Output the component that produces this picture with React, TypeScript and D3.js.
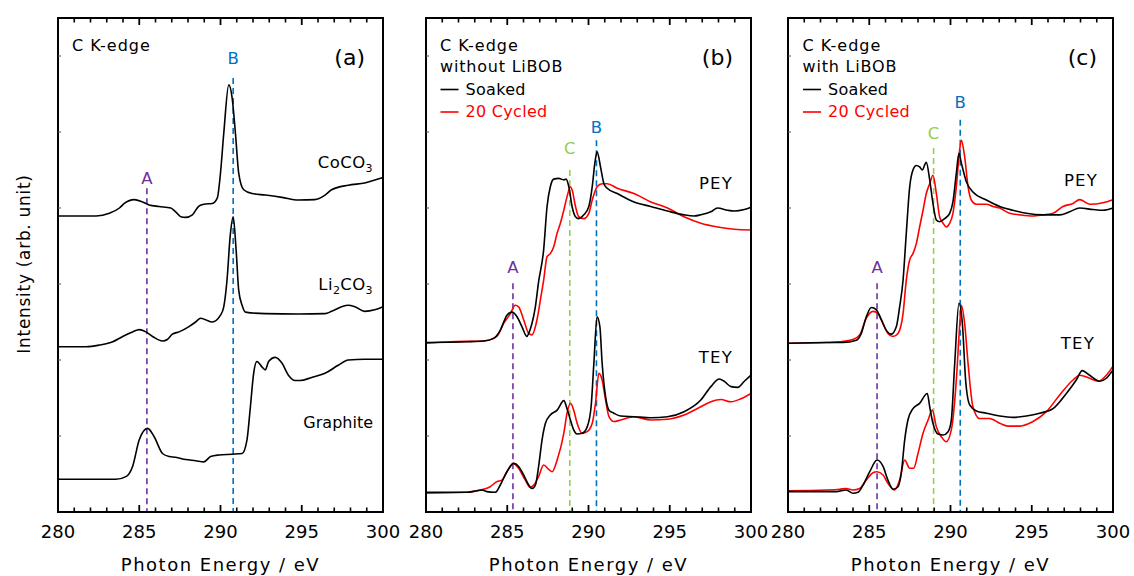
import React from 'react';
import * as d3 from 'd3';

type Pt = [number, number];

// ---------- axis ticks ----------
const xMajorTicks = [280, 285, 290, 295, 300];
const xMinorTicks = [281, 282, 283, 284, 286, 287, 288, 289, 291, 292, 293, 294, 296, 297, 298, 299];
const yTicks = [1, 2, 3, 4, 5, 6];

// ---------- panel (a): reference compounds ----------
const aCoCO3: Pt[] = [
  [280, 3.895], [282.35, 3.895], [283.16, 3.93], [283.78, 4.0], [284.08, 4.06], [284.69, 4.11], [285.2, 4.08],
  [285.61, 4.04], [286.22, 4.02], [286.94, 4.0], [287.24, 3.95], [287.55, 3.886], [287.86, 3.877], [288.27, 3.91],
  [288.67, 4.026], [288.98, 4.05], [289.49, 4.06], [289.8, 4.13], [290.0, 4.46], [290.2, 4.98], [290.51, 5.62],
  [290.71, 5.46], [290.92, 4.98], [291.12, 4.46], [291.43, 4.24], [291.94, 4.19], [292.76, 4.17], [293.78, 4.14],
  [294.8, 4.105], [295.8, 4.11], [296.43, 4.17], [296.84, 4.24], [297.86, 4.3], [298.88, 4.33], [300, 4.4],
];
const aLi2CO3: Pt[] = [
  [280, 2.175], [281.73, 2.175], [282.55, 2.197], [283.37, 2.24], [283.98, 2.31], [284.59, 2.37], [285.0, 2.4],
  [285.41, 2.37], [285.82, 2.31], [286.43, 2.25], [286.73, 2.27], [287.04, 2.34], [287.45, 2.37], [288.06, 2.44],
  [288.47, 2.5], [288.78, 2.55], [289.08, 2.53], [289.49, 2.5], [290.0, 2.59], [290.2, 2.7], [290.4, 3.05],
  [290.6, 3.64], [290.78, 3.885], [290.96, 3.45], [291.12, 2.92], [291.33, 2.72], [291.53, 2.63], [292.76, 2.61],
  [294.8, 2.605], [296.43, 2.61], [296.84, 2.64], [297.45, 2.7], [297.86, 2.72], [298.27, 2.7], [298.88, 2.64],
  [299.49, 2.66], [300, 2.7],
];
const aGraphite: Pt[] = [
  [280, 0.43], [283.57, 0.43], [284.18, 0.465], [284.59, 0.6], [285.0, 0.95], [285.51, 1.1], [285.92, 0.99],
  [286.43, 0.77], [286.84, 0.73], [287.24, 0.72], [287.86, 0.69], [288.47, 0.675], [288.98, 0.66], [289.39, 0.73],
  [289.9, 0.75], [290.71, 0.76], [291.33, 0.77], [291.63, 0.95], [291.84, 1.385], [292.04, 1.825], [292.24, 1.98],
  [292.55, 1.91], [292.76, 1.87], [292.96, 1.98], [293.37, 2.035], [293.78, 1.96], [294.18, 1.8], [294.59, 1.73],
  [294.9, 1.73], [295.61, 1.77], [296.43, 1.825], [297.24, 1.93], [297.86, 2.0], [298.88, 2.01], [300, 2.01],
];

// ---------- panel (b): without LiBOB ----------
const bPeySoaked: Pt[] = [
  [280, 2.23], [282.51, 2.24], [283.54, 2.25], [284.16, 2.285], [284.57, 2.39], [284.98, 2.59], [285.29, 2.63],
  [285.6, 2.57], [285.9, 2.44], [286.21, 2.31], [286.32, 2.35], [286.52, 2.48], [286.73, 2.7], [286.93, 3.03],
  [287.24, 3.45], [287.45, 4.02], [287.65, 4.28], [287.86, 4.38], [288.17, 4.39], [288.48, 4.37], [288.62, 4.38],
  [288.79, 4.28], [288.99, 4.02], [289.2, 3.885], [289.4, 3.86], [289.71, 3.91], [290.02, 4.02], [290.23, 4.28],
  [290.39, 4.59], [290.53, 4.74], [290.74, 4.54], [290.95, 4.32], [291.15, 4.26], [291.77, 4.19], [292.8, 4.08],
  [293.83, 4.02], [294.86, 3.96], [295.88, 3.91], [296.5, 3.895], [296.91, 3.91], [297.53, 3.95], [297.94, 4.0],
  [298.56, 3.97], [298.97, 3.96], [299.59, 3.98], [300, 4.01],
];
const bPeyCycled: Pt[] = [
  [280, 2.22], [281.48, 2.24], [283.54, 2.25], [284.36, 2.31], [284.77, 2.48], [285.19, 2.61], [285.49, 2.72],
  [285.7, 2.7], [286.01, 2.53], [286.32, 2.35], [286.52, 2.33], [286.83, 2.53], [287.04, 2.79], [287.24, 3.05],
  [287.45, 3.36], [287.65, 3.4], [287.86, 3.49], [288.07, 3.67], [288.27, 3.8], [288.48, 3.97], [288.68, 4.15],
  [288.89, 4.28], [288.99, 4.24], [289.2, 4.02], [289.4, 3.885], [289.71, 3.86], [290.02, 3.93], [290.23, 4.105],
  [290.53, 4.28], [290.84, 4.32], [291.15, 4.32], [291.77, 4.26], [292.8, 4.19], [293.83, 4.08], [294.86, 4.0],
  [295.88, 3.885], [296.91, 3.8], [297.94, 3.75], [298.97, 3.72], [300, 3.71],
];
const bTeySoaked: Pt[] = [
  [280, 0.259], [282.51, 0.259], [283.13, 0.28], [283.44, 0.29], [283.74, 0.268], [284.26, 0.259], [284.57, 0.355],
  [284.98, 0.53], [285.39, 0.64], [285.7, 0.6], [286.01, 0.487], [286.32, 0.355], [286.52, 0.31], [286.73, 0.355],
  [286.93, 0.6], [287.14, 0.947], [287.35, 1.167], [287.65, 1.276], [288.07, 1.34], [288.48, 1.465], [288.68, 1.36],
  [288.89, 1.21], [289.09, 1.08], [289.3, 1.026], [289.61, 1.035], [289.92, 1.12], [290.16, 1.385], [290.33, 1.956],
  [290.53, 2.57], [290.7, 2.44], [290.84, 1.956], [291.05, 1.517], [291.26, 1.34], [291.56, 1.3], [291.98, 1.263],
  [292.8, 1.254], [293.83, 1.24], [294.86, 1.254], [295.88, 1.32], [296.91, 1.474], [297.53, 1.65], [298.05, 1.75],
  [298.35, 1.72], [298.77, 1.65], [299.18, 1.64], [299.59, 1.72], [300, 1.8],
];
const bTeyCycled: Pt[] = [
  [280, 0.246], [282.51, 0.259], [283.33, 0.29], [283.95, 0.333], [284.36, 0.4], [284.67, 0.42], [284.98, 0.53],
  [285.39, 0.64], [285.7, 0.575], [286.11, 0.42], [286.42, 0.325], [286.63, 0.355], [286.93, 0.465], [287.24, 0.618],
  [287.55, 0.56], [287.76, 0.53], [288.07, 0.684], [288.48, 1.035], [288.68, 1.3], [288.89, 1.43], [289.09, 1.34],
  [289.3, 1.167], [289.61, 1.035], [289.92, 1.057], [290.23, 1.167], [290.43, 1.43], [290.64, 1.825], [290.84, 1.737],
  [291.05, 1.474], [291.26, 1.254], [291.56, 1.19], [291.98, 1.21], [292.8, 1.254], [293.83, 1.21], [294.86, 1.22],
  [295.88, 1.276], [296.91, 1.385], [297.53, 1.45], [298.15, 1.48], [298.77, 1.45], [299.38, 1.49], [300, 1.56],
];

// ---------- panel (c): with LiBOB ----------
const cPeySoaked: Pt[] = [
  [280, 2.22], [282.36, 2.23], [283.38, 2.23], [284.21, 2.26], [284.51, 2.35], [284.82, 2.57], [285.13, 2.69],
  [285.44, 2.66], [285.74, 2.53], [286.05, 2.39], [286.36, 2.34], [286.67, 2.44], [286.87, 2.7], [287.08, 3.05],
  [287.28, 3.67], [287.49, 4.28], [287.69, 4.5], [287.9, 4.56], [288.1, 4.54], [288.27, 4.5], [288.41, 4.566],
  [288.51, 4.6], [288.72, 4.37], [288.92, 4.06], [289.13, 3.84], [289.33, 3.82], [289.64, 3.86], [289.95, 3.93],
  [290.15, 4.08], [290.36, 4.46], [290.52, 4.72], [290.67, 4.59], [290.97, 4.35], [291.38, 4.21], [292.21, 4.105],
  [293.03, 4.02], [293.85, 3.97], [294.67, 3.93], [295.69, 3.91], [296.72, 3.91], [297.33, 3.95], [297.95, 4.0],
  [298.77, 3.98], [299.38, 3.97], [300, 4.0],
];
const cPeyCycled: Pt[] = [
  [280, 2.22], [282.36, 2.23], [283.18, 2.24], [284.0, 2.27], [284.41, 2.33], [284.82, 2.55], [285.23, 2.64],
  [285.54, 2.61], [285.85, 2.48], [286.15, 2.35], [286.46, 2.31], [286.77, 2.35], [287.08, 2.61], [287.28, 3.05],
  [287.49, 3.32], [287.69, 3.4], [287.9, 3.535], [288.1, 3.75], [288.31, 3.97], [288.51, 4.19], [288.72, 4.32],
  [288.92, 4.43], [289.13, 4.19], [289.33, 3.885], [289.54, 3.8], [289.74, 3.75], [289.95, 3.8], [290.15, 3.93],
  [290.36, 4.28], [290.56, 4.76], [290.67, 4.89], [290.87, 4.675], [291.08, 4.28], [291.28, 4.105], [291.59, 4.05],
  [292.21, 4.05], [292.62, 4.02], [293.03, 4.0], [293.64, 3.93], [294.26, 3.91], [295.08, 3.895], [295.69, 3.91],
  [296.31, 3.93], [296.92, 4.02], [297.54, 4.06], [297.95, 4.11], [298.56, 4.05], [299.38, 4.07], [300, 4.11],
];
const cTeySoaked: Pt[] = [
  [280, 0.268], [282.97, 0.268], [283.59, 0.29], [284.0, 0.246], [284.31, 0.259], [284.62, 0.355], [285.03, 0.53],
  [285.48, 0.684], [285.85, 0.6], [286.15, 0.42], [286.46, 0.3], [286.77, 0.333], [286.97, 0.51], [287.18, 0.947],
  [287.38, 1.21], [287.69, 1.36], [288.1, 1.43], [288.57, 1.56], [288.72, 1.385], [288.92, 1.167], [289.23, 1.026],
  [289.54, 1.013], [289.85, 1.057], [290.05, 1.21], [290.26, 1.956], [290.52, 2.746], [290.73, 2.48], [290.93, 1.737],
  [291.18, 1.41], [291.59, 1.33], [292.21, 1.3], [293.03, 1.263], [293.85, 1.245], [294.67, 1.263], [295.49, 1.3],
  [296.31, 1.36], [297.13, 1.56], [297.74, 1.737], [298.11, 1.86], [298.56, 1.8], [299.18, 1.72], [299.59, 1.76],
  [300, 1.87],
];
const cTeyCycled: Pt[] = [
  [280, 0.28], [282.36, 0.29], [283.18, 0.3], [283.59, 0.31], [284.0, 0.29], [284.41, 0.31], [284.82, 0.42],
  [285.23, 0.517], [285.48, 0.53], [285.85, 0.487], [286.15, 0.377], [286.56, 0.29], [286.87, 0.42], [287.18, 0.684],
  [287.49, 0.575], [287.73, 0.575], [288.0, 0.77], [288.31, 1.035], [288.62, 1.21], [288.88, 1.34], [289.13, 1.12],
  [289.44, 0.99], [289.74, 0.925], [290.05, 1.08], [290.36, 1.737], [290.56, 2.44], [290.67, 2.72], [290.87, 2.48],
  [291.08, 1.956], [291.38, 1.385], [291.79, 1.23], [292.41, 1.23], [293.03, 1.167], [293.54, 1.13], [294.26, 1.13],
  [295.08, 1.19], [295.9, 1.32], [296.72, 1.54], [297.54, 1.737], [297.95, 1.8], [298.56, 1.76], [299.08, 1.72],
  [299.59, 1.8], [300, 1.92],
];

// ---------- peak markers (energy, eV) ----------
const aMarkers = [
  { label: 'A', energy: 285.47, top: 4.26, textY: 4.39, color: '#7030A0' },
  { label: 'B', energy: 290.78, top: 5.71, textY: 5.97, color: '#0070C0' },
];
const bMarkers = [
  { label: 'A', energy: 285.35, top: 3.01, textY: 3.23, color: '#7030A0' },
  { label: 'C', energy: 288.85, top: 4.5, textY: 4.79, color: '#92D050' },
  { label: 'B', energy: 290.49, top: 4.89, textY: 5.06, color: '#0070C0' },
];
const cMarkers = [
  { label: 'A', energy: 285.48, top: 3.01, textY: 3.23, color: '#7030A0' },
  { label: 'C', energy: 288.96, top: 4.79, textY: 4.99, color: '#92D050' },
  { label: 'B', energy: 290.6, top: 5.16, textY: 5.39, color: '#0070C0' },
];

const W = 1134;
const H = 576;
const TOP = 18;
const BOTTOM = 512;
const PW = 325;
const FONT = "'DejaVu Sans', 'Noto Sans', sans-serif";

type Curve = { data: Pt[]; color: string };
type Marker = { label: string; energy: number; top: number; textY: number; color: string };

function Panel(props: {
  left: number;
  curves: Curve[];
  markers: Marker[];
  children?: React.ReactNode;
}) {
  const { left, curves, markers } = props;
  const x = d3.scaleLinear().domain([280, 300]).range([left, left + PW]);
  const y = d3.scaleLinear().domain([0, 6.5]).range([BOTTOM, TOP]);
  const line = d3
    .line<Pt>()
    .x((d) => x(d[0]))
    .y((d) => y(d[1]))
    .curve(d3.curveMonotoneX);
  return (
    <g>
      {markers.map((m) => (
        <g key={m.label}>
          <line
            x1={x(m.energy)}
            x2={x(m.energy)}
            y1={y(m.top)}
            y2={BOTTOM}
            stroke={m.color}
            strokeWidth={1.6}
            strokeDasharray="6,4"
          />
          <text
            x={x(m.energy)}
            y={y(m.textY) + 6}
            textAnchor="middle"
            fontSize={16.5}
            fill={m.color}
            fontFamily={FONT}
          >
            {m.label}
          </text>
        </g>
      ))}
      {curves.map((c, i) => (
        <path key={i} d={line(c.data) || ''} fill="none" stroke={c.color} strokeWidth={1.6} strokeLinejoin="round" />
      ))}
      <rect x={left} y={TOP} width={PW} height={BOTTOM - TOP} fill="none" stroke="#000" strokeWidth={2} />
      {xMajorTicks.map((t) => (
        <g key={'M' + t}>
          <line x1={x(t)} x2={x(t)} y1={BOTTOM} y2={BOTTOM - 7} stroke="#000" strokeWidth={1.8} />
          <line x1={x(t)} x2={x(t)} y1={TOP} y2={TOP + 7} stroke="#000" strokeWidth={1.8} />
          <text x={x(t)} y={538} textAnchor="middle" fontSize={18} fontFamily={FONT} fill="#000">
            {t}
          </text>
        </g>
      ))}
      {xMinorTicks.map((t) => (
        <g key={'m' + t}>
          <line x1={x(t)} x2={x(t)} y1={BOTTOM} y2={BOTTOM - 4.5} stroke="#000" strokeWidth={1.6} />
          <line x1={x(t)} x2={x(t)} y1={TOP} y2={TOP + 4.5} stroke="#000" strokeWidth={1.6} />
        </g>
      ))}
      {yTicks.map((t) => (
        <line key={'y' + t} x1={left} x2={left + 3} y1={y(t)} y2={y(t)} stroke="#555" strokeWidth={1} />
      ))}
      <text
        x={left + PW / 2}
        y={571}
        textAnchor="middle"
        fontSize={18}
        letterSpacing={1.5}
        fontFamily={FONT}
        fill="#000"
      >
        Photon Energy / eV
      </text>
      {props.children}
    </g>
  );
}

function Legend({ x, y }: { x: number; y: number }) {
  return (
    <g fontFamily={FONT} fontSize={16}>
      <line x1={x} x2={x + 18} y1={y - 5} y2={y - 5} stroke="#000" strokeWidth={1.6} />
      <text x={x + 25} y={y} fill="#000" letterSpacing={0.3}>Soaked</text>
      <line x1={x} x2={x + 18} y1={y + 17.5} y2={y + 17.5} stroke="#FF0000" strokeWidth={1.6} />
      <text x={x + 25} y={y + 22.5} fill="#FF0000" letterSpacing={0.3}>20 Cycled</text>
    </g>
  );
}

export default function App() {
  const lefts = [58, 426, 788];
  return (
    <svg
      width={W}
      height={H}
      viewBox={`0 0 ${W} ${H}`}
      style={{ position: 'absolute', left: 0, top: 0, background: '#fff' }}
    >
      <rect x={0} y={0} width={W} height={H} fill="#fff" />
      <text
        transform="translate(30,264) rotate(-90)"
        textAnchor="middle"
        fontSize={17}
        letterSpacing={0.7}
        fontFamily={FONT}
        fill="#000"
      >
        Intensity (arb. unit)
      </text>

      <Panel
        left={lefts[0]}
        markers={aMarkers}
        curves={[
          { data: aCoCO3, color: '#000' },
          { data: aLi2CO3, color: '#000' },
          { data: aGraphite, color: '#000' },
        ]}
      >
        <g fontFamily={FONT} fill="#000">
          <text x={72} y={50.5} fontSize={16} letterSpacing={1}>C K-edge</text>
          <text x={365} y={65} fontSize={22} textAnchor="end">(a)</text>
          <text x={373} y={168} fontSize={16.5} textAnchor="end" letterSpacing={0.4}>
            CoCO<tspan fontSize={11} dy={4}>3</tspan>
          </text>
          <text x={373} y={290} fontSize={16.5} textAnchor="end" letterSpacing={0.4}>
            Li<tspan fontSize={11} dy={4}>2</tspan>
            <tspan dy={-4}>CO</tspan>
            <tspan fontSize={11} dy={4}>3</tspan>
          </text>
          <text x={373} y={428} fontSize={16} textAnchor="end">Graphite</text>
        </g>
      </Panel>

      <Panel
        left={lefts[1]}
        markers={bMarkers}
        curves={[
          { data: bPeyCycled, color: '#FF0000' },
          { data: bPeySoaked, color: '#000' },
          { data: bTeyCycled, color: '#FF0000' },
          { data: bTeySoaked, color: '#000' },
        ]}
      >
        <g fontFamily={FONT} fill="#000">
          <text x={440} y={50.5} fontSize={16} letterSpacing={1}>C K-edge</text>
          <text x={440} y={72} fontSize={16} letterSpacing={0.8}>without LiBOB</text>
          <text x={733} y={65} fontSize={22} textAnchor="end">(b)</text>
          <text x={733} y={188.5} fontSize={16.5} textAnchor="end" letterSpacing={1.2}>PEY</text>
          <text x={733} y={362.5} fontSize={16.5} textAnchor="end" letterSpacing={1.2}>TEY</text>
        </g>
        <Legend x={440.5} y={94.5} />
      </Panel>

      <Panel
        left={lefts[2]}
        markers={cMarkers}
        curves={[
          { data: cPeyCycled, color: '#FF0000' },
          { data: cPeySoaked, color: '#000' },
          { data: cTeyCycled, color: '#FF0000' },
          { data: cTeySoaked, color: '#000' },
        ]}
      >
        <g fontFamily={FONT} fill="#000">
          <text x={802.5} y={50.5} fontSize={16} letterSpacing={1}>C K-edge</text>
          <text x={802.5} y={72} fontSize={16} letterSpacing={0.8}>with LiBOB</text>
          <text x={1097} y={65} fontSize={22} textAnchor="end">(c)</text>
          <text x={1098} y={186} fontSize={16.5} textAnchor="end" letterSpacing={1.2}>PEY</text>
          <text x={1095} y={348.5} fontSize={16.5} textAnchor="end" letterSpacing={1.2}>TEY</text>
        </g>
        <Legend x={803} y={94.5} />
      </Panel>
    </svg>
  );
}
